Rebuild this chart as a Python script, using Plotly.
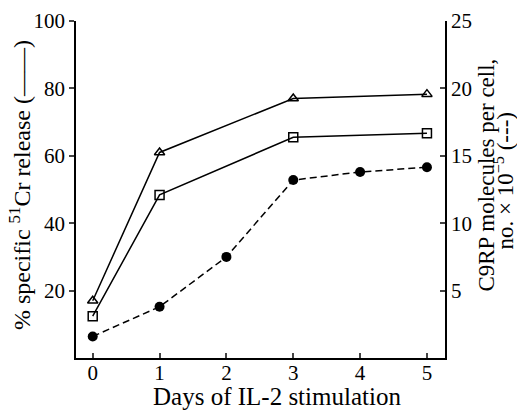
import plotly.graph_objects as go

days_cr = [0, 1, 3, 5]
cr_triangle = [17, 61, 77, 78.3]
cr_square = [12.4, 48.4, 65.5, 66.7]
days_c9 = [0, 1, 2, 3, 4, 5]
c9rp = [1.6, 3.8, 7.5, 13.2, 13.8, 14.15]

x_ticks = [0, 1, 2, 3, 4, 5]
left_ticks = [20, 40, 60, 80, 100]
right_ticks = [5, 10, 15, 20, 25]

FONT = "Liberation Serif, Times New Roman, serif"

fig = go.Figure()
fig.add_trace(go.Scatter(x=days_cr, y=cr_triangle, mode="lines+markers",
                         line=dict(color="black", width=1.5),
                         marker=dict(symbol="triangle-up-open", size=9, color="black",
                                     line=dict(width=1.5, color="black")),
                         showlegend=False))
fig.add_trace(go.Scatter(x=days_cr, y=cr_square, mode="lines+markers",
                         line=dict(color="black", width=1.5),
                         marker=dict(symbol="square-open", size=9, color="black",
                                     line=dict(width=1.5, color="black")),
                         showlegend=False))
fig.add_trace(go.Scatter(x=days_c9, y=c9rp, mode="lines+markers", yaxis="y2",
                         line=dict(color="black", width=1.5, dash="7px,4px"),
                         marker=dict(symbol="circle", size=10, color="black"),
                         showlegend=False))

axis_common = dict(ticklen=5, tickwidth=1.5, showline=True,
                   linewidth=1.5, linecolor="black", showgrid=False,
                   zeroline=False, tickfont=dict(size=21), automargin=False)

fig.update_layout(
    width=517, height=410,
    margin=dict(l=76, r=72, t=21, b=52, autoexpand=False),
    paper_bgcolor="white", plot_bgcolor="white",
    font=dict(family=FONT, size=21, color="black"),
    xaxis=dict(range=[-0.25, 5.27], tickvals=x_ticks, ticks="inside",
               ticklabelstandoff=-5, **axis_common),
    yaxis=dict(range=[0, 100], tickvals=left_ticks, ticks="outside", **axis_common),
    yaxis2=dict(range=[0, 25], tickvals=right_ticks, overlaying="y", side="right",
                ticks="inside", **axis_common),
    annotations=[
        dict(text="Days of IL-2 stimulation", xref="paper", yref="paper",
             x=0.545, y=-0.113, xanchor="center", yanchor="middle",
             showarrow=False, font=dict(size=25)),
        dict(text="% specific <sup>51</sup>Cr release (——)", xref="paper", yref="paper",
             x=-0.152, y=0.513, xanchor="center", yanchor="middle", textangle=-90,
             showarrow=False, font=dict(size=24)),
        dict(text="C9RP molecules per cell,", xref="paper", yref="paper",
             x=1.11, y=0.543, xanchor="center", yanchor="middle", textangle=-90,
             showarrow=False, font=dict(size=23)),
        dict(text="no. × 10<sup>−5</sup> (---)", xref="paper", yref="paper",
             x=1.16, y=0.524, xanchor="center", yanchor="middle", textangle=-90,
             showarrow=False, font=dict(size=23)),
    ],
)

fig.write_html("out.html", config={"displayModeBar": False},
               post_script="document.body.style.margin='0';document.body.style.overflow='hidden';")
